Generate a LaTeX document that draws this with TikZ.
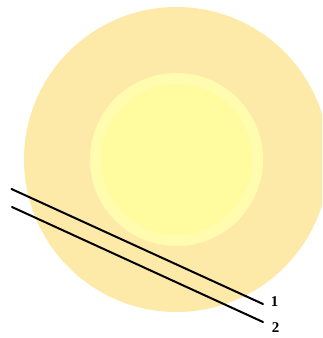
\documentclass[tikz,border=0pt]{standalone}
\usepackage{fontspec}
\setmainfont{Liberation Serif}
\definecolor{outerc}{RGB}{253,234,168}
\definecolor{haloc}{RGB}{255,252,176}
\definecolor{corec}{RGB}{255,252,160}
\begin{document}
\begin{tikzpicture}[x=1pt,y=-1pt,
  wire/.style={line width=2pt,black,line cap=round},
  lbl/.style={font=\fontsize{15}{15}\selectfont\bfseries,inner sep=0pt}]
\useasboundingbox (0,0) rectangle (322,338);
\clip (0,0) rectangle (322,338);
\fill[outerc] (176.5,159.5) circle[radius=152.5];
\fill[haloc] (176.5,159.5) circle[radius=86.5];
\fill[corec] (176.5,159.5) circle[radius=76];
\coordinate (a1) at (11.5,189);
\coordinate (b1) at (263,304);
\coordinate (a2) at (12,207);
\coordinate (b2) at (263,322);
\node[lbl] (l1) at (274.5,301.5) {1};
\node[lbl] (l2) at (275.5,328) {2};
\draw[wire] (a1) -- (b1);
\draw[wire] (a2) -- (b2);
\end{tikzpicture}
\end{document}
